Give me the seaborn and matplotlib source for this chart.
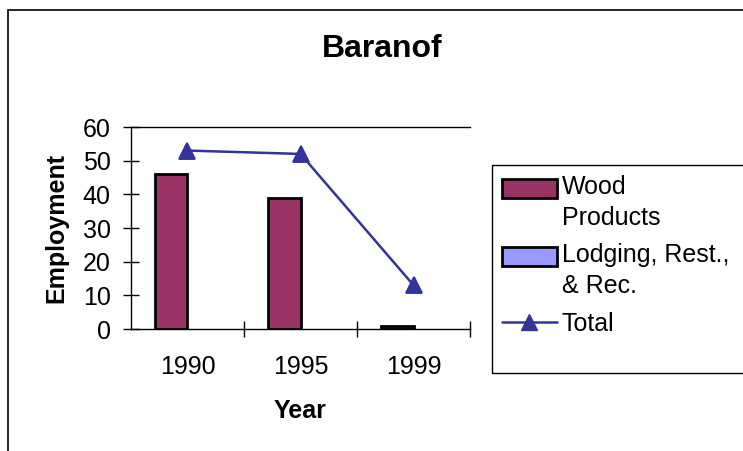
import numpy as np
import pandas as pd
import matplotlib.pyplot as plt
import seaborn as sns
from matplotlib.patches import Patch, Rectangle
from matplotlib.lines import Line2D
from matplotlib.legend_handler import HandlerPatch

sns.set_style("white")
plt.rcParams['font.family'] = ['Liberation Sans', 'DejaVu Sans']
plt.rcParams.update({'text.color': 'black', 'axes.labelcolor': 'black',
                     'xtick.color': 'black', 'ytick.color': 'black'})

# Data
years = ['1990', '1995', '1999']
wood_products = [46, 39, 1]
lodging = [0, 0, 0]
total = [53, 52, 13]

series_names = ['Wood Products', 'Lodging, Rest., & Rec.']
df = pd.DataFrame({
    'Year': years * 2,
    'Series': [series_names[0]] * 3 + [series_names[1]] * 3,
    'Employment': wood_products + lodging,
})

wood_color = '#993366'
lodging_color = '#9999FF'
total_color = '#333399'

fig = plt.figure(figsize=(7.43, 4.51), dpi=100)
ax = fig.add_axes([0.1763, 0.2705, 0.6326 - 0.1763, 0.7184 - 0.2705])

sns.barplot(data=df, x='Year', y='Employment', hue='Series',
            palette=[wood_color, lodging_color], saturation=1,
            edgecolor='black', linewidth=2, width=0.58, gap=0,
            legend=False, ax=ax)
# zero-height bars are not drawn in the reference
for bar in ax.patches:
    if bar.get_height() == 0:
        bar.set_linewidth(0)

sns.pointplot(x=years, y=total, color=total_color, markers='^',
              markersize=11, linewidth=1.8, ax=ax)

ax.set_ylim(0, 60)
ax.set_xlim(-0.5, 2.5)
ax.set_yticks(range(0, 61, 10))
ax.tick_params(axis='y', direction='inout', length=11.5, width=1,
               labelsize=18, pad=9, left=True)
ax.tick_params(axis='x', which='major', length=0, labelsize=18, pad=19)
ax.set_xticks([0.5, 1.5, 2.5], minor=True)
ax.tick_params(axis='x', which='minor', direction='inout', length=12,
               width=1, bottom=True)

for side in ['left', 'bottom', 'top']:
    ax.spines[side].set_visible(True)
    ax.spines[side].set_color('black')
    ax.spines[side].set_linewidth(1)
ax.spines['right'].set_visible(False)

ax.set_xlabel('Year', fontsize=18, fontweight='bold', labelpad=14)
ax.set_ylabel('Employment', fontsize=18, fontweight='bold', labelpad=10)
fig.suptitle('Baranof', x=0.515, y=0.925, fontsize=23, fontweight='bold')


def top_rect(legend, orig_handle, xdescent, ydescent, width, height, fontsize):
    # align the swatch with the first text line
    return Rectangle((-xdescent, -ydescent + 0.6 * fontsize), width, height)


handles = [
    Patch(facecolor=wood_color, edgecolor='black', linewidth=2),
    Patch(facecolor=lodging_color, edgecolor='black', linewidth=2),
    Line2D([0], [0], color=total_color, marker='^', markersize=11, linewidth=1.8),
]
labels = ['Wood\nProducts', 'Lodging, Rest.,\n& Rec.', 'Total']
leg = fig.legend(handles, labels, loc='upper left',
                 bbox_to_anchor=(0.662, 0.173, 0.36, 0.461), mode='expand',
                 fontsize=18, frameon=False,
                 handlelength=2.2, handleheight=0.8, handletextpad=0.2,
                 labelspacing=0.55, borderpad=0.4, borderaxespad=0,
                 handler_map={Patch: HandlerPatch(patch_func=top_rect)})
for t in leg.get_texts():
    t.set_linespacing(1.35)

# legend box, running off the right edge as in the reference
fig.patches.append(Rectangle((492 / 743, 1 - 373 / 451), 0.4, (373 - 165) / 451,
                             transform=fig.transFigure, fill=False,
                             edgecolor='black', linewidth=1))

# outer chart border (left and top visible)
fig.patches.append(Rectangle((8 / 743, -0.1), 1.2, 1 - 10 / 451 + 0.1,
                             transform=fig.transFigure, fill=False,
                             edgecolor='black', linewidth=1.2))

plt.savefig('out.png', dpi=100)
